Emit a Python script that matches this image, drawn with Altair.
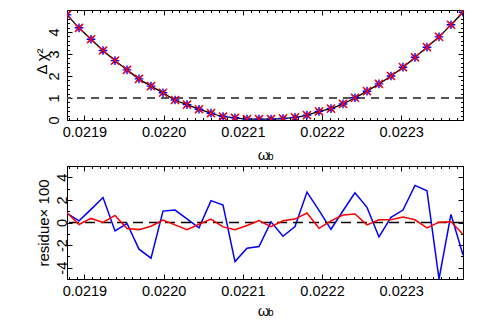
import altair as alt
import pandas as pd

# ---- data ----
omega_b = [0.021878, 0.0218932, 0.0219083, 0.0219235, 0.0219386, 0.0219538,
           0.0219689, 0.0219841, 0.0219992, 0.0220144, 0.0220295, 0.0220447,
           0.0220598, 0.022075, 0.0220901, 0.0221053, 0.0221204, 0.0221356,
           0.0221507, 0.0221659, 0.022181, 0.0221962, 0.0222113, 0.0222265,
           0.0222416, 0.0222568, 0.0222719, 0.0222871, 0.0223022, 0.0223174,
           0.0223325, 0.0223477, 0.0223628, 0.022378]
delta_chi2 = [4.78, 4.19, 3.67, 3.16, 2.70, 2.28, 1.87, 1.54, 1.24, 0.91,
              0.70, 0.49, 0.31, 0.16, 0.10, 0.04, 0.04, 0.04, 0.07, 0.12,
              0.22, 0.39, 0.52, 0.73, 1.01, 1.31, 1.64, 2.00, 2.40, 2.85,
              3.31, 3.78, 4.33, 4.90]
resid_blue = [0.81, 0.15, 1.16, 2.21, -0.75, -0.09, -2.36, -3.16, 1.01, 1.10,
              0.33, -0.48, 1.94, 1.55, -3.46, -2.27, -2.12, 0.06, -1.22, -0.36,
              2.69, 1.07, -0.60, 1.04, 2.63, 1.34, -1.28, 0.45, 1.10, 3.28,
              2.81, -5.0, 0.72, -2.87]
resid_red = [0.87, -0.18, 0.36, 0.00, 0.63, -0.54, -0.63, -0.33, 0.21, -0.21,
             -0.63, -0.15, 0.30, -0.39, -0.63, -0.27, 0.18, -0.36, 0.15, 0.30,
             0.84, -0.51, 0.15, 0.66, 0.75, -0.21, 0.24, 0.24, 0.48, 0.24,
             -0.48, 0.03, 0.06, -1.04]

x_domain = [0.021878, 0.022378]
chi2_domain = [0, 5]
resid_domain = [-5, 5]
chi2_ref = [1]
resid_ref = [0]

x_major = [0.0219, 0.0220, 0.0221, 0.0222, 0.0223]
x_minor = [round(0.02188 + k * 0.00001, 5) for k in range(50)]
chi2_major = [0, 1, 2, 3, 4]
chi2_minor = [round(k * 0.2, 1) for k in range(25)]
resid_major = [-4, -2, 0, 2, 4]
resid_minor = [-5, -3, -1, 1, 3, 5]

FONT = "Liberation Sans"
W = 396
H1 = 110
H2 = 113

df = pd.DataFrame({"x": omega_b, "chi2": delta_chi2, "rb": resid_blue, "rr": resid_red})


def x_axis_major(H, title_y):
    return alt.Axis(
        values=x_major, format=".4f", orient="bottom",
        labelFont=FONT, labelFontSize=14.5, labelColor="black",
        labelPadding=5, labelOverlap=False, labelFlush=False,
        ticks=False, tickSize=0, domain=False,
        grid=True, gridColor="black", gridOpacity=1, gridWidth=1,
        gridDash=[5, H - 10, 5],
        title="ω", titleFont=FONT, titleFontSize=15, titleFontWeight="normal",
        titleColor="black", titleX=W / 2 - 2, titleY=title_y,
        titleBaseline="alphabetic", titleAlign="center",
    )


def x_axis_minor(H):
    return alt.Axis(
        values=x_minor, orient="top", labels=False, ticks=False, domain=False,
        title=None, minExtent=0, maxExtent=0,
        grid=True, gridColor="black", gridOpacity=1, gridWidth=1,
        gridDash=[2.5, H - 5, 2.5],
    )


def y_axis_major(values, title, label_pad, title_x, title_y):
    return alt.Axis(
        values=values, labelExpr="'' + round(datum.value)", orient="left",
        labelFont=FONT, labelFontSize=14.5, labelColor="black",
        labelAngle=270, labelAlign="center", labelBaseline="alphabetic",
        labelPadding=label_pad, labelOverlap=False, labelFlush=False,
        ticks=False, tickSize=0, domain=False,
        grid=True, gridColor="black", gridOpacity=1, gridWidth=1,
        gridDash=[5, W - 10, 5],
        title=title, titleFont=FONT, titleFontSize=15, titleFontWeight="normal",
        titleColor="black", titleAngle=270, titleX=title_x, titleY=title_y,
        titleBaseline="alphabetic", titleAlign="center",
    )


def y_axis_minor(values):
    return alt.Axis(
        values=values, orient="right", labels=False, ticks=False, domain=False,
        title=None, minExtent=0, maxExtent=0,
        grid=True, gridColor="black", gridOpacity=1, gridWidth=1,
        gridDash=[2.5, W - 5, 2.5],
    )


xs = alt.Scale(domain=x_domain, nice=False, zero=False)
ys_top = alt.Scale(domain=chi2_domain, nice=False, zero=False)
ys_bot = alt.Scale(domain=resid_domain, nice=False, zero=False)

ASTER = "M0,-1L0,1M-1,0L1,0M-0.7,-0.7L0.7,0.7M-0.7,0.7L0.7,-0.7"
XSHAPE = "M-0.8,-0.8L0.8,0.8M-0.8,0.8L0.8,-0.8"

# ---------- top panel ----------
base_top = alt.Chart(df)
minor_top = base_top.mark_point(opacity=0).encode(
    x=alt.X("x:Q", scale=xs, axis=x_axis_minor(H1)),
    y=alt.Y("chi2:Q", scale=ys_top, axis=y_axis_minor(chi2_minor)),
)
curve = base_top.mark_line(color="black", strokeWidth=1.3, interpolate="monotone",
                           clip=True).encode(
    x=alt.X("x:Q", scale=xs, axis=x_axis_major(H1, 39)),
    y=alt.Y("chi2:Q", scale=ys_top,
            axis=y_axis_major(chi2_major, "Δ χ²", 9, -21, 51)),
)
blue_pts = base_top.mark_point(shape=ASTER, filled=False, color="#0000ff", size=75,
                               strokeWidth=1.4, opacity=1, clip=True).encode(
    x=alt.X("x:Q", axis=None), y=alt.Y("chi2:Q", axis=None))
red_pts = base_top.mark_point(shape=XSHAPE, filled=False, color="#ff0000", size=105,
                              strokeWidth=1.4, opacity=1, clip=True).encode(
    x=alt.X("x:Q", axis=None), y=alt.Y("chi2:Q", axis=None))
rule_top = alt.Chart(pd.DataFrame({"chi2": chi2_ref})).mark_rule(
    color="#555555", strokeWidth=2, strokeDash=[8, 6]).encode(y=alt.Y("chi2:Q", axis=None))
sub_top = alt.Chart(pd.DataFrame({"t": ["b"]})).mark_text(
    font=FONT, fontSize=10, align="left", baseline="alphabetic", color="black"
).encode(text="t:N", x=alt.value(W / 2 + 3), y=alt.value(H1 + 40))

top = alt.layer(minor_top, curve, rule_top, blue_pts, red_pts, sub_top).resolve_axis(
    x="independent", y="independent").properties(width=W, height=H1)

# ---------- bottom panel ----------
base_bot = alt.Chart(df)
minor_bot = base_bot.mark_point(opacity=0).encode(
    x=alt.X("x:Q", scale=xs, axis=x_axis_minor(H2)),
    y=alt.Y("rb:Q", scale=ys_bot, axis=y_axis_minor(resid_minor)),
)
blue_line = base_bot.mark_line(color="#0000ff", strokeWidth=1.5, clip=True).encode(
    x=alt.X("x:Q", scale=xs, axis=x_axis_major(H2, 36)),
    y=alt.Y("rb:Q", scale=ys_bot,
            axis=y_axis_major(resid_major, "residue× 100", 1, -19, H2 / 2)),
)
red_line = base_bot.mark_line(color="#ff0000", strokeWidth=1.5, clip=True).encode(
    x=alt.X("x:Q", axis=None), y=alt.Y("rr:Q", axis=None))
rule_bot = alt.Chart(pd.DataFrame({"rb": resid_ref})).mark_rule(
    color="black", strokeWidth=1.5, strokeDash=[10, 6]).encode(y=alt.Y("rb:Q", axis=None))
sub_bot = alt.Chart(pd.DataFrame({"t": ["b"]})).mark_text(
    font=FONT, fontSize=10, align="left", baseline="alphabetic", color="black"
).encode(text="t:N", x=alt.value(W / 2 + 3), y=alt.value(H2 + 37))

bottom = alt.layer(minor_bot, blue_line, rule_bot, red_line, sub_bot).resolve_axis(
    x="independent", y="independent").properties(width=W, height=H2)

chart = alt.vconcat(top, bottom, spacing=46, bounds="flush").properties(
    padding={"left": 25, "top": 0, "right": 5, "bottom": 0},
    background="white",
).configure_view(stroke="black", strokeWidth=1)

chart.save("out.html", embed_options={"renderer": "svg", "actions": False})
